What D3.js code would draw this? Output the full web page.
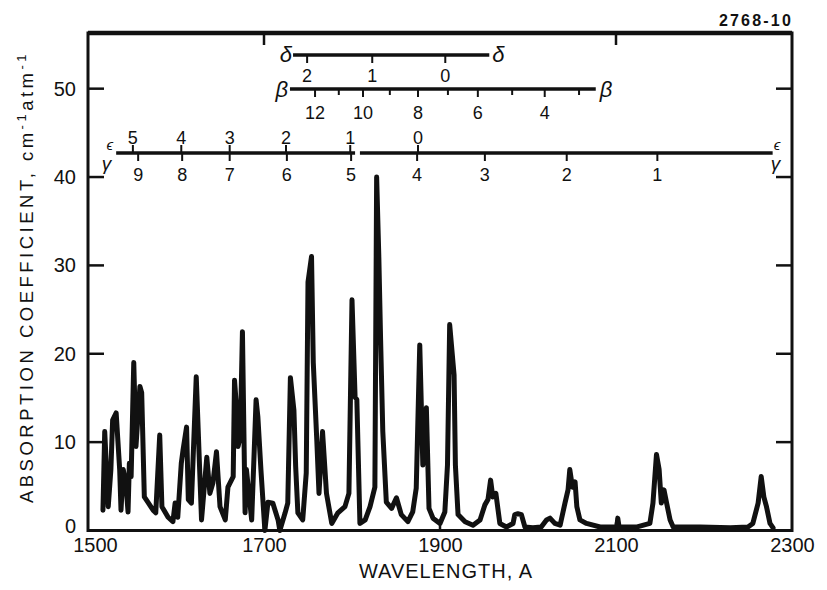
<!DOCTYPE html>
<html>
<head>
<meta charset="utf-8">
<script src="https://cdn.jsdelivr.net/npm/d3@7"></script>
<style>
  html, body { margin: 0; padding: 0; background: #fff; }
  svg text { font-family: "Liberation Sans", Arial, sans-serif; fill: #111; }
</style>
</head>
<body>
<svg id="chart" width="827" height="590"></svg>
<script>
/* Absorption spectrum, 1500-2300 A, with band-head scales */

// spectrum trace (wavelength in A, absorption coefficient)
const wavelength = [
  1517, 1519, 1523, 1526, 1528, 1532, 1536, 1537.5, 1540, 1543, 1545.5, 1547, 1549, 1552, 1554.5,
  1559, 1561, 1564, 1568, 1574, 1577, 1581.5, 1584, 1591, 1596.5, 1599, 1602, 1606, 1608, 1612,
  1614, 1617.5, 1623, 1629, 1635, 1638.5, 1642, 1646, 1650, 1656, 1659, 1665, 1666.5, 1669, 1670.5,
  1673, 1675.5, 1678.5, 1680, 1686, 1691, 1693, 1696.5, 1701, 1704.5, 1710, 1716, 1718, 1724, 1727,
  1730, 1734, 1736, 1738.5, 1744, 1748, 1750, 1754, 1756, 1760, 1762.5, 1766.5, 1771, 1777, 1784,
  1792, 1796.5, 1800, 1803.5, 1805.5, 1809, 1815, 1820.5, 1826, 1828, 1830.5, 1832.5, 1835, 1839, 1845,
  1850.5, 1856, 1863.5, 1869, 1873, 1877, 1880.5, 1884.5, 1887.5, 1892, 1900, 1905.5, 1908.5, 1911, 1916,
  1917.5, 1920.5, 1928.5, 1937.5, 1945.5, 1951, 1954.5, 1957.5, 1960, 1963.5, 1968, 1975.5, 1983, 1985, 1988.5,
  1992.5, 1996.5, 2005.5, 2015, 2021, 2025, 2030.5, 2036.5, 2042, 2045.5, 2047.5, 2050.5, 2053.5, 2055.5, 2059,
  2066.5, 2082, 2101, 2102, 2103.5, 2124, 2138.5, 2142, 2146, 2149, 2151.5, 2154.5, 2157.5, 2161.5, 2165,
  2195.5, 2230, 2250, 2255.5, 2261.5, 2265, 2268, 2271, 2275, 2278.5
];
const absorption = [
  2.3, 11.2, 2.7, 6.9, 12.5, 13.3, 6.9, 2.3, 6.9, 5.4, 2.1, 7.6, 6.1, 19.0, 9.5,
  16.3, 15.6, 3.8, 3.2, 2.3, 2.0, 10.8, 2.7, 1.5, 1.0, 3.1, 1.5, 7.6, 9.1, 11.7,
  3.5, 3.1, 17.4, 1.2, 8.3, 4.2, 5.4, 8.9, 2.7, 1.2, 4.9, 6.1, 17.0, 13.6, 9.5,
  10.6, 22.5, 2.0, 6.9, 1.2, 14.8, 12.9, 6.9, 0.0, 3.2, 3.1, 1.2, 0.0, 2.0, 3.1,
  17.3, 13.6, 7.2, 2.0, 1.2, 6.5, 28.1, 31.0, 19.0, 10.2, 4.2, 11.2, 4.2, 0.8, 2.0,
  2.7, 4.2, 26.1, 15.1, 14.8, 0.8, 1.2, 2.7, 4.9, 40.0, 30.9, 21.6, 11.2, 3.2, 2.5,
  3.7, 1.8, 1.0, 2.1, 4.8, 21.0, 7.4, 13.9, 2.5, 1.4, 0.8, 2.1, 7.4, 23.3, 17.6,
  7.4, 1.8, 1.0, 0.6, 1.2, 2.9, 3.5, 5.7, 3.8, 4.2, 0.8, 0.4, 0.8, 1.8, 1.9,
  1.8, 0.4, 0.3, 0.4, 1.2, 1.4, 0.8, 0.6, 3.1, 4.6, 6.9, 4.9, 5.5, 2.7, 1.2,
  0.8, 0.4, 0.4, 1.4, 0.4, 0.4, 0.8, 3.1, 8.6, 6.9, 3.1, 4.6, 3.1, 1.2, 0.4,
  0.4, 0.3, 0.4, 0.8, 3.1, 6.1, 3.8, 2.7, 0.8, 0.3
];

const xTicks = [1500, 1700, 1900, 2100, 2300];
const xInnerTicksBottom = [1700, 1900, 2100];
const xInnerTicksTop = [1700, 2100];
const yTicks = [0, 10, 20, 30, 40, 50];

// band-head scales (wavelength of each head, label)
const deltaSpan = [1733, 1956];
const deltaHeads = [1749, 1823, 1906];
const deltaLabels = ['2', '1', '0'];

const betaSpan = [1729.5, 2077];
const betaHeads = [1758, 1785, 1812.5, 1843, 1875, 1909, 1943, 1982, 2019, 2058];
const betaLabels = ['12', '', '10', '', '8', '', '6', '', '4', ''];

const epsGammaSpans = [[1532, 1803.5], [1809, 2278]];
const epsilonHeads = [1551, 1606, 1661, 1725, 1798, 1875];
const epsilonLabels = ['5', '4', '3', '2', '1', '0'];
const gammaHeads = [1557, 1607, 1661, 1726, 1799, 1874, 1951, 2044, 2147];
const gammaLabels = ['9', '8', '7', '6', '5', '4', '3', '2', '1'];

const svg = d3.select('#chart');

const x = d3.scaleLinear().domain([1500, 2300]).range([88, 792]);
const y = d3.scaleLinear().domain([0, 56.3]).range([530.5, 33]);

const INK = '#111';
const FONT = '"Liberation Sans", Arial, sans-serif';

/* Frame */
svg.append('rect')
  .attr('x', x(1500)).attr('y', y(56.3))
  .attr('width', x(2300) - x(1500)).attr('height', y(0) - y(56.3))
  .attr('fill', 'none').attr('stroke', INK).attr('stroke-width', 3);
// heavier top edge, as in the print
svg.append('line')
  .attr('x1', x(1500)).attr('x2', x(2300)).attr('y1', y(56.3)).attr('y2', y(56.3))
  .attr('stroke', INK).attr('stroke-width', 4.5);

/* Axes: labels outside, short ticks pointing inward */
const xAxis = svg.append('g')
  .attr('transform', `translate(0,${y(0)})`)
  .call(d3.axisBottom(x).tickValues(xTicks).tickSize(0).tickPadding(7).tickFormat(d3.format('d')));
xAxis.select('.domain').remove();
xAxis.selectAll('text')
  .attr('font-size', '20px').attr('fill', INK)
  .attr('dx', d => d === 1500 ? 7 : 0)
  .style('font-family', FONT);

const yAxis = svg.append('g')
  .attr('transform', `translate(${x(1500)},0)`)
  .call(d3.axisLeft(y).tickValues(yTicks).tickSize(0).tickPadding(12));
yAxis.select('.domain').remove();
yAxis.selectAll('text')
  .attr('font-size', '20px').attr('fill', INK)
  .attr('dy', d => d === 0 ? '0.1em' : '0.32em')
  .style('font-family', FONT);

const ticks = svg.append('g').attr('stroke', INK).attr('stroke-width', 2.5);
yTicks.filter(d => d > 0).forEach(d => {
  ticks.append('line').attr('x1', x(1500)).attr('x2', x(1500) + 16).attr('y1', y(d)).attr('y2', y(d));
  ticks.append('line').attr('x1', x(2300)).attr('x2', x(2300) - 16).attr('y1', y(d)).attr('y2', y(d));
});
xInnerTicksBottom.forEach(d => {
  ticks.append('line').attr('x1', x(d)).attr('x2', x(d)).attr('y1', y(0)).attr('y2', y(0) - 8);
});
xInnerTicksTop.forEach(d => {
  ticks.append('line').attr('x1', x(d)).attr('x2', x(d)).attr('y1', y(56.3)).attr('y2', y(56.3) + 12);
});

/* Spectrum */
const points = wavelength.map((w, i) => [w, absorption[i]]);
svg.append('path')
  .datum(points)
  .attr('fill', 'none')
  .attr('stroke', INK)
  .attr('stroke-width', 5)
  .attr('stroke-linejoin', 'round')
  .attr('stroke-linecap', 'round')
  .attr('d', d3.line().x(d => x(d[0])).y(d => y(d[1])));

/* Band-head scales */
const bands = svg.append('g');

function bandLine(span, yy) {
  bands.append('line')
    .attr('x1', x(span[0])).attr('x2', x(span[1]))
    .attr('y1', yy).attr('y2', yy)
    .attr('stroke', INK).attr('stroke-width', 3.5);
}

function headTicks(heads, labels, yy, dir, labelY) {
  heads.forEach((h, i) => {
    const len = labels[i] ? 8 : 6;
    bands.append('line')
      .attr('x1', x(h)).attr('x2', x(h))
      .attr('y1', yy).attr('y2', yy + dir * len)
      .attr('stroke', INK).attr('stroke-width', 2);
    if (labels[i]) {
      bands.append('text')
        .attr('x', x(h)).attr('y', labelY)
        .attr('text-anchor', 'middle')
        .attr('font-size', '18px')
        .text(labels[i]);
    }
  });
}

function greek(ch, xx, yy, size, anchor) {
  bands.append('text')
    .attr('x', xx).attr('y', yy)
    .attr('text-anchor', anchor)
    .attr('font-size', size + 'px')
    .attr('font-style', 'italic')
    .text(ch);
}

// delta
const Y_DELTA = 55;
bandLine(deltaSpan, Y_DELTA);
headTicks(deltaHeads, deltaLabels, Y_DELTA, 1, 82);
greek('δ', x(deltaSpan[0]) - 1, Y_DELTA + 7, 22, 'end');
greek('δ', x(deltaSpan[1]) + 3, Y_DELTA + 7, 22, 'start');

// beta
const Y_BETA = 89;
bandLine(betaSpan, Y_BETA);
headTicks(betaHeads, betaLabels, Y_BETA, 1, 119);
greek('β', x(betaSpan[0]) - 2, Y_BETA + 8, 22, 'end');
greek('β', x(betaSpan[1]) + 4, Y_BETA + 8, 22, 'start');

// epsilon (above) / gamma (below)
const Y_EG = 153;
epsGammaSpans.forEach(s => bandLine(s, Y_EG));
headTicks(epsilonHeads, epsilonLabels, Y_EG, -1, 144);
headTicks(gammaHeads, gammaLabels, Y_EG, 1, 181);
greek('ϵ', x(epsGammaSpans[0][0]) - 3, Y_EG - 3, 15, 'end');
greek('γ', x(epsGammaSpans[0][0]) - 5, Y_EG + 17, 19, 'end');
greek('ϵ', x(epsGammaSpans[1][1]) + 1, Y_EG - 3, 15, 'start');
greek('γ', x(epsGammaSpans[1][1]) - 2, Y_EG + 17, 19, 'start');

/* Titles */
svg.append('text')
  .attr('x', 793).attr('y', 26)
  .attr('text-anchor', 'end')
  .attr('font-size', '16px')
  .attr('font-weight', '700')
  .attr('letter-spacing', '2.2px')
  .text('2768-10');

svg.append('text')
  .attr('x', x(1900) + 6).attr('y', 578)
  .attr('text-anchor', 'middle')
  .attr('font-size', '20px')
  .attr('letter-spacing', '1px')
  .text('WAVELENGTH, A');

const yLabel = svg.append('text')
  .attr('transform', 'translate(33,277) rotate(-90)')
  .attr('text-anchor', 'middle')
  .attr('font-size', '18.5px')
  .attr('letter-spacing', '3.5px');
yLabel.append('tspan').text('ABSORPTION  COEFFICIENT,  cm');
yLabel.append('tspan').attr('dy', -7).attr('font-size', '13px').text('-1');
yLabel.append('tspan').attr('dy', 7).text('atm');
yLabel.append('tspan').attr('dy', -7).attr('font-size', '13px').text('-1');
</script>
</body>
</html>
